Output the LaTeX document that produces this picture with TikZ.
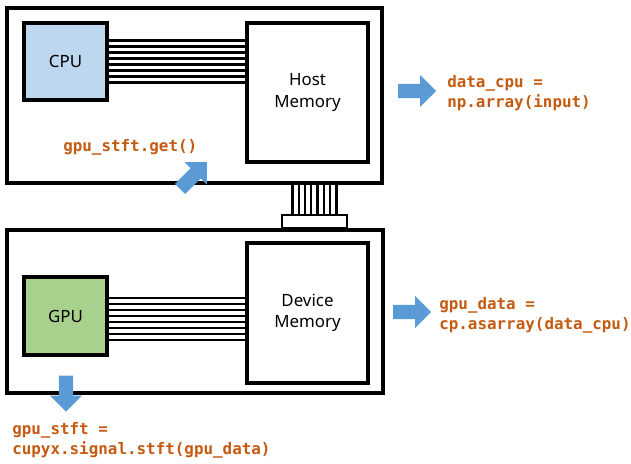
\documentclass[tikz,border=0pt]{standalone}
\definecolor{cpublue}{RGB}{189, 215, 238}
\definecolor{gpugreen}{RGB}{169, 209, 142}
\definecolor{codeorange}{RGB}{197, 90, 17}
\definecolor{arrowblue}{RGB}{91, 155, 213}
\usepackage{tikz}
\usepackage{fontspec}
\setmainfont{Noto Sans}
\newfontfamily\codefont{DejaVu Sans Mono}
\usetikzlibrary{shapes,arrows,positioning,calc}

\begin{document}
\begin{tikzpicture}[x=0.025cm, y=-0.025cm,
    outer/.style={rectangle, draw, line width=2.6pt, inner sep=0pt},
    chip/.style={rectangle, draw, line width=2.8pt, inner sep=0pt, font=\fontsize{12}{15}\selectfont},
    code/.style={anchor=west, align=left, inner sep=0pt, text=codeorange, font=\codefont\bfseries\fontsize{11.3}{14.2}\selectfont},
    blockarrow/.style={single arrow, fill=arrowblue, draw=none, inner xsep=0pt, inner ysep=0.17cm, minimum height=0.95cm, minimum width=0.75cm, single arrow head extend=0.22cm}]
    \useasboundingbox (0,0) rectangle (631,463);

    % Host side
    \node[outer, minimum width=9.375cm, minimum height=4.375cm] (hostbox) at (194.5,95.5) {};
    \node[chip, fill=cpublue, minimum width=2.075cm, minimum height=1.925cm] (cpu) at (65.5,61.5) {CPU};
    \node[chip, fill=white, align=center, minimum width=3.025cm, minimum height=3.475cm] (host) at (307.5,92.5) {Host\\Memory};

    % Device side
    \node[outer, minimum width=9.4cm, minimum height=4.075cm] (devbox) at (195,311.5) {};
    \node[chip, fill=gpugreen, minimum width=2.075cm, minimum height=1.95cm] (gpu) at (65.5,316) {GPU};
    \node[chip, fill=white, align=center, minimum width=3.025cm, minimum height=3.5cm] (device) at (307.5,313) {Device\\Memory};

    % PCIe slot
    \node[rectangle, draw, line width=1.6pt, fill=white, minimum width=1.625cm, minimum height=0.325cm, inner sep=0pt] (slot) at (314.5,221.5) {};

    % buses
    \foreach \i in {0,...,7} {
        \path ([yshift={(\i*0.15-0.525)*1cm}]cpu.east) coordinate (hb);
        \draw[line width=1.6pt] (hb) -- (hb -| host.west);
        \path ([yshift={(\i*0.15-0.6)*1cm}]gpu.east) coordinate (db);
        \draw[line width=1.6pt] (db) -- (db -| device.west);
        \path ([xshift={(\i*0.157-0.55)*1cm}]slot.north) coordinate (sb);
        \draw[line width=1.6pt] (sb) -- (sb |- hostbox.south);
    }

    % code labels
    \node[code] (get) at (63,147) {gpu\_stft.get()};
    \node[code] (datacpu) at (447,93) {data\_cpu =\\np.array(input)};
    \node[code] (gpudata) at (439,315) {gpu\_data =\\cp.asarray(data\_cpu)};
    \node[code] (stft) at (12,440.5) {gpu\_stft =\\cupyx.signal.stft(gpu\_data)};

    % block arrows
    \node[blockarrow] (toget) at (191,178) [rotate=45] {};
    \node[blockarrow] (tocpu) at (413.5,91) {};
    \node[blockarrow] (togpu) at (408.5,312) {};
    \node[blockarrow, minimum height=0.9cm] (tostft) at (66,390) [rotate=-90] {};
\end{tikzpicture}
\end{document}
